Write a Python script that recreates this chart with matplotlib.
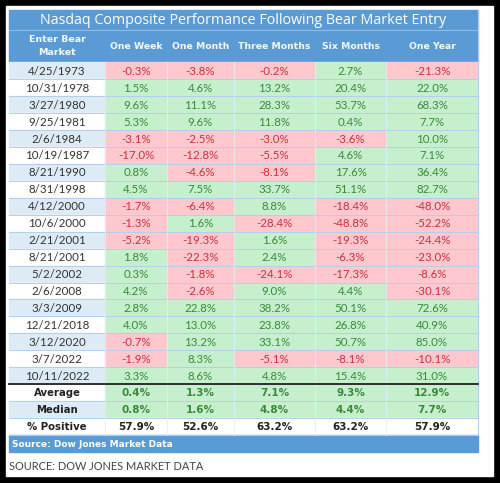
"""
Nasdaq Composite performance following bear market entry, drawn as a table.
"""
import matplotlib.pyplot as plt
from matplotlib.patches import Rectangle

dates = ["4/25/1973", "10/31/1978", "3/27/1980", "9/25/1981", "2/6/1984",
         "10/19/1987", "8/21/1990", "8/31/1998", "4/12/2000", "10/6/2000",
         "2/21/2001", "8/21/2001", "5/2/2002", "2/6/2008", "3/3/2009",
         "12/21/2018", "3/12/2020", "3/7/2022", "10/11/2022"]
periods = ["One Week", "One Month", "Three Months", "Six Months", "One Year"]

one_week = [-0.3, 1.5, 9.6, 5.3, -3.1, -17.0, 0.8, 4.5, -1.7, -1.3,
            -5.2, 1.8, 0.3, 4.2, 2.8, 4.0, -0.7, -1.9, 3.3]
one_month = [-3.8, 4.6, 11.1, 9.6, -2.5, -12.8, -4.6, 7.5, -6.4, 1.6,
             -19.3, -22.3, -1.8, -2.6, 22.8, 13.0, 13.2, 8.3, 8.6]
three_months = [-0.2, 13.2, 28.3, 11.8, -3.0, -5.5, -8.1, 33.7, 8.8, -28.4,
                1.6, 2.4, -24.1, 9.0, 38.2, 23.8, 33.1, -5.1, 4.8]
six_months = [2.7, 20.4, 53.7, 0.4, -3.6, 4.6, 17.6, 51.1, -18.4, -48.8,
              -19.3, -6.3, -17.3, 4.4, 50.1, 26.8, 50.7, -8.1, 15.4]
one_year = [-21.3, 22.0, 68.3, 7.7, 10.0, 7.1, 36.4, 82.7, -48.0, -52.2,
            -24.4, -23.0, -8.6, -30.1, 72.6, 40.9, 85.0, -10.1, 31.0]

average = [0.4, 1.3, 7.1, 9.3, 12.9]
median = [0.8, 1.6, 4.8, 4.4, 7.7]
pct_positive = [57.9, 52.6, 63.2, 63.2, 57.9]

series = [one_week, one_month, three_months, six_months, one_year]

# layout (pixels)
col_edges = [9, 105, 167, 234, 315, 386, 478]
title_top, header_top, body_top = 10, 30, 62.3
row_h = 16.94

BLUE = "#5b9bd5"
LIGHT_BLUE = "#ddebf7"
GREEN_BG, GREEN_TX = "#c6efce", "#3a8a3a"
RED_BG, RED_TX = "#ffc7ce", "#c8323c"
GRID = "#b4cfea"

VAL_FONT = "Lato"
BOLD_FONT = "DejaVu Sans"

fig = plt.figure(figsize=(5.0, 4.83), dpi=100, facecolor="black")
ax = fig.add_axes([0, 0, 1, 1])
ax.set_xlim(0, 500)
ax.set_ylim(483, 0)
ax.axis("off")

ax.add_patch(Rectangle((6, 6), 487, 470, color="white", zorder=0))

left, right = col_edges[0], col_edges[-1]
width = right - left

# title and header bars
ax.add_patch(Rectangle((left, title_top), width, header_top - title_top, color=BLUE, zorder=1))
ax.add_patch(Rectangle((left, header_top), width, body_top - header_top, color=BLUE, zorder=1))
ax.plot([left, right], [header_top, header_top], color="#8fbbe4", lw=0.8, zorder=2)
ax.text((left + right) / 2, (title_top + header_top) / 2 + 1,
        "Nasdaq Composite Performance Following Bear Market Entry",
        color="white", fontsize=10.3, family="Open Sans", ha="center", va="center", zorder=3)

centers = [(col_edges[i] + col_edges[i + 1]) / 2 for i in range(len(col_edges) - 1)]
ax.text(centers[0], (header_top + body_top) / 2, "Enter Bear\nMarket", color="#f4f8fc",
        fontsize=6.8, weight="bold", family=BOLD_FONT, ha="center", va="center",
        linespacing=1.6, zorder=3)
for c, name in zip(centers[1:], periods):
    ax.text(c, (header_top + body_top) / 2, name, color="#f4f8fc", fontsize=6.7,
            weight="bold", family=BOLD_FONT, ha="center", va="center", zorder=3)


def fmt(v):
    return f"{v:.1f}%"


# body rows
rows = [(d, [s[i] for s in series]) for i, d in enumerate(dates)]
rows += [("Average", average), ("Median", median), ("% Positive", pct_positive)]
n_data = len(dates)

for r, (label, vals) in enumerate(rows):
    top = body_top + r * row_h
    yc = top + row_h / 2 + 0.5
    summary = r >= n_data
    date_bg = LIGHT_BLUE if r % 2 == 0 else "white"
    ax.add_patch(Rectangle((left, top), col_edges[1] - left, row_h, color=date_bg, zorder=1))
    if summary:
        ax.text(centers[0], yc, label, color="#222222", fontsize=7.3, weight="bold",
                family=BOLD_FONT, ha="center", va="center", zorder=3)
    else:
        ax.text(centers[0], yc, label, color="#333333", fontsize=8.3,
                family=VAL_FONT, ha="center", va="center", zorder=3)
    for j, v in enumerate(vals):
        x0, x1 = col_edges[j + 1], col_edges[j + 2]
        if label == "% Positive":
            bg, tx = "white", "#222222"
        elif v < 0:
            bg, tx = RED_BG, RED_TX
        else:
            bg, tx = GREEN_BG, GREEN_TX
        ax.add_patch(Rectangle((x0, top), x1 - x0, row_h, color=bg, zorder=1))
        if summary:
            ax.text((x0 + x1) / 2, yc, fmt(v), color=tx, fontsize=7.5, weight="bold",
                    family=BOLD_FONT, ha="center", va="center", zorder=3)
        else:
            ax.text((x0 + x1) / 2, yc, fmt(v), color=tx, fontsize=8.3,
                    family=VAL_FONT, ha="center", va="center", zorder=3)
    ax.plot([left, right], [top + row_h, top + row_h], color=GRID, lw=0.7, zorder=2)

body_bottom = body_top + len(rows) * row_h
for x in col_edges[1:-1]:
    ax.plot([x, x], [body_top, body_bottom], color="#e4ecf4", lw=0.6, zorder=2)
ax.plot([right, right], [title_top, body_bottom], color=GRID, lw=0.7, zorder=2)

# thick rule above the summary rows
sep_y = body_top + n_data * row_h
ax.plot([left, right], [sep_y, sep_y], color="#222222", lw=1.3, zorder=4)

# source bar
src_h = 17.5
ax.add_patch(Rectangle((left, body_bottom), width, src_h, color=BLUE, zorder=1))
ax.text(left + 3, body_bottom + src_h / 2 + 0.5, "Source: Dow Jones Market Data",
        color="white", fontsize=6.5, weight="bold", family=BOLD_FONT,
        ha="left", va="center", zorder=3)

ax.text(left, 466, "SOURCE: DOW JONES MARKET DATA", color="#444444", fontsize=7.9,
        family="Lato", ha="left", va="center", zorder=3)

fig.savefig("out.png", dpi=100, facecolor=fig.get_facecolor())
